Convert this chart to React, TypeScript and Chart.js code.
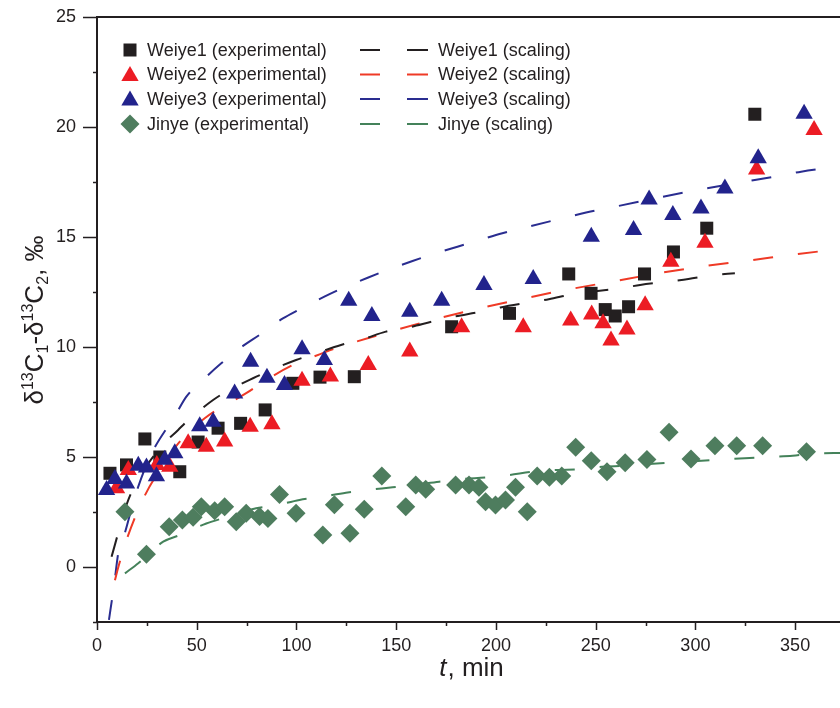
import React, { useEffect, useRef } from 'react';
import { Chart, registerables } from 'chart.js';
Chart.register(...registerables);

const FONT = '"Liberation Sans", Arial, Helvetica, sans-serif';
const INK = '#231f20';

// ---- experimental data (t, min ; delta, permil) ----
const weiye1T = [6.5, 14.8, 24, 31.5, 41.5, 50.7, 60.7, 72, 84.3, 98.2, 111.8, 129, 177.8, 206.8, 236.5, 247.7, 254.8, 259.8, 266.5, 274.5, 289, 305.7, 329.8];
const weiye1D = [4.26, 4.64, 5.82, 5.0, 4.33, 5.68, 6.31, 6.53, 7.14, 8.35, 8.63, 8.65, 10.92, 11.53, 13.32, 12.44, 11.7, 11.41, 11.83, 13.32, 14.32, 15.4, 20.58];

const weiye2T = [9.8, 15.7, 30, 36.5, 45.7, 54.8, 64, 76.8, 87.7, 102.8, 117, 136, 156.8, 182.8, 213.7, 237.5, 248, 253.7, 257.7, 265.7, 274.8, 287.7, 304.8, 330.7, 359.5];
const weiye2D = [3.58, 4.41, 4.64, 4.56, 5.62, 5.47, 5.7, 6.38, 6.49, 8.47, 8.66, 9.18, 9.79, 10.9, 10.9, 11.2, 11.48, 11.08, 10.29, 10.8, 11.9, 13.88, 14.74, 18.07, 19.86];

const weiye3T = [4.8, 9, 14.8, 20.7, 24.8, 29.8, 34, 39, 51.5, 58.2, 69, 77, 85.2, 94, 102.8, 114, 126.2, 137.8, 156.8, 172.8, 194, 218.7, 247.8, 269, 276.8, 288.7, 302.8, 314.8, 331.5, 354.5];
const weiye3D = [3.5, 4.0, 3.8, 4.6, 4.52, 4.12, 4.88, 5.17, 6.4, 6.6, 7.89, 9.33, 8.6, 8.27, 9.9, 9.41, 12.1, 11.41, 11.6, 12.1, 12.82, 13.09, 15.01, 15.32, 16.71, 16.0, 16.3, 17.2, 18.58, 20.6];

const jinyeT = [14, 24.8, 36.2, 42.8, 48.2, 52.3, 59, 64, 69.8, 74.8, 81.5, 85.7, 91.5, 99.8, 113.2, 119, 126.8, 134, 142.8, 154.8, 159.8, 164.8, 179.8, 186.5, 191.5, 194.8, 199.8, 204.8, 209.8, 215.7, 220.7, 226.8, 233, 240, 247.8, 255.7, 264.8, 275.7, 286.8, 297.8, 309.8, 320.7, 333.7, 355.7];
const jinyeD = [2.51, 0.58, 1.83, 2.14, 2.26, 2.74, 2.56, 2.74, 2.06, 2.44, 2.29, 2.2, 3.3, 2.44, 1.45, 2.83, 1.53, 2.62, 4.14, 2.74, 3.73, 3.53, 3.73, 3.73, 3.62, 2.97, 2.82, 3.05, 3.62, 2.51, 4.14, 4.08, 4.14, 5.44, 4.83, 4.33, 4.74, 4.89, 6.12, 4.91, 5.51, 5.51, 5.51, 5.24];

// ---- scaling curves ----
const weiye1FitT = [7.3, 15.7, 30.7, 40.7, 45.7, 58.2, 64.8, 78.2, 87.3, 99.8, 109.8, 122.3, 133.2, 144.8, 155.7, 169, 179, 192.3, 202.3, 215.7, 226.5, 239, 262.3, 272.3, 285.7, 296.5, 309, 319.8];
const weiye1FitD = [0.47, 3.05, 5.32, 6.23, 6.68, 7.59, 7.97, 8.58, 8.95, 9.41, 9.71, 10.09, 10.35, 10.7, 10.88, 11.18, 11.38, 11.6, 11.8, 12.01, 12.17, 12.41, 12.67, 12.82, 12.97, 13.09, 13.27, 13.35];

const weiye2FitT = [9, 10.7, 14.8, 23.2, 34.8, 41.5, 54, 74.8, 84.8, 98.2, 108.2, 121.5, 141.5, 164.8, 188.2, 210.7, 234.8, 258.2, 281.5, 304.8, 328.2, 351.5, 372.5];
const weiye2FitD = [-0.6, 0.0, 1.23, 3.11, 4.86, 5.7, 6.76, 7.9, 8.5, 9.18, 9.55, 10.0, 10.55, 11.15, 11.68, 12.14, 12.59, 12.97, 13.35, 13.68, 13.95, 14.23, 14.45];

const weiye3FitT = [6, 8.2, 11.5, 13.2, 19, 26.5, 39.8, 44.8, 54, 62.3, 73.2, 81.5, 93.2, 101.5, 114, 123, 135.7, 145.7, 158.2, 168.2, 180.7, 190.7, 203.2, 213.2, 226.5, 236.5, 249.8, 259.8, 296.5, 329.8, 343, 353, 372.5];
const weiye3FitD = [-2.4, -1.05, 1.08, 1.35, 3.2, 5.0, 6.98, 7.74, 8.58, 9.26, 10.05, 10.55, 11.3, 11.71, 12.29, 12.67, 13.15, 13.5, 13.91, 14.21, 14.56, 14.83, 15.17, 15.4, 15.7, 15.92, 16.2, 16.38, 17.06, 17.59, 17.8, 17.97, 18.22];

const jinyeFitT = [14, 20.7, 33.2, 41.5, 54.8, 64.8, 79.8, 88.2, 101.5, 111.5, 124.8, 135.7, 148.2, 159, 171.5, 182.3, 195.7, 206.5, 218.2, 229.8, 242.8, 253.2, 264.8, 274.8, 290.7, 314, 324.8, 338.2, 348.7, 361.5, 372.5];
const jinyeFitD = [-0.29, 0.17, 1.15, 1.45, 1.98, 2.26, 2.67, 2.77, 3.05, 3.17, 3.38, 3.5, 3.62, 3.73, 3.88, 3.99, 4.08, 4.18, 4.33, 4.41, 4.45, 4.56, 4.6, 4.67, 4.76, 4.89, 4.94, 5.01, 5.06, 5.17, 5.18];

// ---- axes ----
const xMin = 0;
const xMax = 372.5;
const xStep = 25;
const xLabels = [0, 50, 100, 150, 200, 250, 300, 350];
const yMin = -2.5;
const yMax = 25;
const yStep = 2.5;
const yLabels = [0, 5, 10, 15, 20, 25];

const seriesNames = ['Weiye1', 'Weiye2', 'Weiye3', 'Jinye'];
const markerColors = ['#231f20', '#ec1c24', '#22238c', '#4e7d5e'];
const lineColors = ['#231f20', '#ef3a26', '#2a2d90', '#44825a'];

const zip = (t: number[], d: number[]) => t.map((x, i) => ({ x, y: d[i] }));

function drawMarker(ctx: CanvasRenderingContext2D, kind: string, x: number, y: number, color: string) {
  ctx.save();
  ctx.fillStyle = color;
  ctx.beginPath();
  if (kind === 'rect') {
    ctx.rect(x - 6.5, y - 6.5, 13, 13);
  } else if (kind === 'triangle') {
    const r = 10;
    ctx.moveTo(x, y - r);
    ctx.lineTo(x + r * 0.866, y + r / 2);
    ctx.lineTo(x - r * 0.866, y + r / 2);
    ctx.closePath();
  } else {
    const r = 9.5;
    ctx.moveTo(x, y - r);
    ctx.lineTo(x + r, y);
    ctx.lineTo(x, y + r);
    ctx.lineTo(x - r, y);
    ctx.closePath();
  }
  ctx.fill();
  ctx.restore();
}

const decorPlugin = {
  id: 'decor',
  afterDraw(chart: any) {
    const ctx: CanvasRenderingContext2D = chart.ctx;
    const a = chart.chartArea;
    const xs = chart.scales.x;
    const ys = chart.scales.y;
    ctx.save();
    ctx.strokeStyle = INK;
    ctx.lineWidth = 2;
    // axis lines
    ctx.beginPath();
    ctx.moveTo(a.left, a.top);
    ctx.lineTo(a.left, a.bottom);
    ctx.moveTo(a.left - 1, a.bottom);
    ctx.lineTo(a.right, a.bottom);
    ctx.moveTo(a.left - 1, a.top);
    ctx.lineTo(a.right, a.top);
    ctx.stroke();
    // ticks
    ctx.lineWidth = 1.5;
    ctx.beginPath();
    xs.ticks.forEach((t: any) => {
      const px = Math.round(xs.getPixelForValue(t.value)) + 0.5;
      const major = xLabels.includes(t.value);
      ctx.moveTo(px, a.bottom);
      ctx.lineTo(px, a.bottom + (major ? 8 : 4));
    });
    ys.ticks.forEach((t: any) => {
      const py = Math.round(ys.getPixelForValue(t.value)) + 0.5;
      const major = yLabels.includes(t.value);
      ctx.moveTo(a.left, py);
      ctx.lineTo(a.left - (major ? 14 : 4), py);
    });
    ctx.stroke();

    // x title: italic t + ", min"
    ctx.fillStyle = INK;
    ctx.textBaseline = 'alphabetic';
    const fItal = `italic 26px ${FONT}`;
    const fNorm = `26px ${FONT}`;
    ctx.font = fItal;
    const w1 = ctx.measureText('t').width;
    ctx.font = fNorm;
    const w2 = ctx.measureText(', min').width;
    let sx = 471 - (w1 + w2) / 2;
    ctx.font = fItal;
    ctx.fillText('t', sx, 676);
    ctx.font = fNorm;
    ctx.fillText(', min', sx + w1 + 1, 676);

    // y title with sub/superscripts, rotated
    const segs = [
      { t: 'δ', k: 'n' }, { t: '13', k: 'sup' }, { t: 'C', k: 'n' }, { t: '1', k: 'sub' },
      { t: '-δ', k: 'n' }, { t: '13', k: 'sup' }, { t: 'C', k: 'n' }, { t: '2', k: 'sub' },
      { t: ', ‰', k: 'n' },
    ];
    const fSmall = `16px ${FONT}`;
    let total = 0;
    const widths = segs.map((s) => {
      ctx.font = s.k === 'n' ? fNorm : fSmall;
      const w = ctx.measureText(s.t).width;
      total += w;
      return w;
    });
    ctx.save();
    ctx.translate(43, 320);
    ctx.rotate(-Math.PI / 2);
    let cx = -total / 2;
    segs.forEach((s, i) => {
      ctx.font = s.k === 'n' ? fNorm : fSmall;
      const dy = s.k === 'sup' ? -10 : s.k === 'sub' ? 5 : 0;
      ctx.fillText(s.t, cx, dy);
      cx += widths[i];
    });
    ctx.restore();

    // legend
    const rows = [50, 74.5, 99, 124];
    const kinds = ['rect', 'triangle', 'triangle', 'diamond'];
    ctx.font = `18px ${FONT}`;
    ctx.textBaseline = 'middle';
    rows.forEach((ry, i) => {
      drawMarker(ctx, kinds[i], 130, ry + (kinds[i] === 'triangle' ? 1.5 : 0), markerColors[i]);
      ctx.fillStyle = INK;
      ctx.fillText(`${seriesNames[i]} (experimental)`, 147, ry + 1);
      ctx.strokeStyle = lineColors[i];
      ctx.lineWidth = 2;
      ctx.beginPath();
      ctx.moveTo(360, ry);
      ctx.lineTo(380, ry);
      ctx.moveTo(407, ry);
      ctx.lineTo(428, ry);
      ctx.stroke();
      ctx.fillStyle = INK;
      ctx.fillText(`${seriesNames[i]} (scaling)`, 438, ry + 1);
    });
    ctx.restore();
  },
};

export default function App() {
  const ref = useRef<HTMLCanvasElement | null>(null);
  useEffect(() => {
    document.body.style.margin = '0';
    const canvas = ref.current;
    if (!canvas) return;
    const expDefs = [
      { i: 2, t: weiye3T, d: weiye3D, style: 'triangle', r: 10 },
      { i: 1, t: weiye2T, d: weiye2D, style: 'triangle', r: 10 },
      { i: 0, t: weiye1T, d: weiye1D, style: 'rect', r: 9.2 },
      { i: 3, t: jinyeT, d: jinyeD, style: 'rectRot', r: 9.5 },
    ];
    const fitDefs = [
      { i: 0, t: weiye1FitT, d: weiye1FitD },
      { i: 1, t: weiye2FitT, d: weiye2FitD },
      { i: 2, t: weiye3FitT, d: weiye3FitD },
      { i: 3, t: jinyeFitT, d: jinyeFitD },
    ];
    const datasets: any[] = [
      ...expDefs.map((e) => ({
        label: `${seriesNames[e.i]} (experimental)`,
        data: zip(e.t, e.d),
        showLine: false,
        pointStyle: e.style,
        pointRadius: e.r,
        pointBorderWidth: 0,
        pointBackgroundColor: markerColors[e.i],
        pointBorderColor: markerColors[e.i],
      })),
      ...fitDefs.map((f) => ({
        label: `${seriesNames[f.i]} (scaling)`,
        data: zip(f.t, f.d),
        showLine: true,
        pointRadius: 0,
        borderColor: lineColors[f.i],
        borderWidth: 2,
        borderDash: [20, 25],
        cubicInterpolationMode: 'monotone',
        fill: false,
      })),
    ];
    const chart = new Chart(canvas, {
      type: 'scatter',
      data: { datasets },
      plugins: [decorPlugin],
      options: {
        animation: false,
        responsive: false,
        devicePixelRatio: 1,
        layout: { autoPadding: false, padding: { left: 0, top: 17, right: 0, bottom: 0 } },
        plugins: { legend: { display: false }, tooltip: { enabled: false } },
        scales: {
          x: {
            type: 'linear',
            min: xMin,
            max: xMax,
            grid: { display: false, drawTicks: false, tickLength: 0 },
            border: { display: false },
            afterFit: (s: any) => { s.height = 86; s.paddingLeft = 0; s.paddingRight = 0; },
            ticks: {
              stepSize: xStep,
              includeBounds: false,
              autoSkip: false,
              maxRotation: 0,
              padding: 13,
              color: INK,
              font: { family: FONT, size: 18 },
              callback: (v: any) => (xLabels.includes(Number(v)) ? String(v) : ''),
            },
          },
          y: {
            type: 'linear',
            min: yMin,
            max: yMax,
            grid: { display: false, drawTicks: false, tickLength: 0 },
            border: { display: false },
            afterFit: (s: any) => { s.width = 97; s.paddingTop = 0; s.paddingBottom = 0; },
            ticks: {
              stepSize: yStep,
              autoSkip: false,
              padding: 21,
              color: INK,
              font: { family: FONT, size: 18 },
              callback: (v: any) => (yLabels.includes(Number(v)) ? String(v) : ''),
            },
          },
        },
      } as any,
    });
    return () => chart.destroy();
  }, []);
  return (
    <div style={{ width: 840, height: 708, background: '#fff' }}>
      <canvas ref={ref} width={840} height={708} style={{ display: 'block' }} />
    </div>
  );
}
